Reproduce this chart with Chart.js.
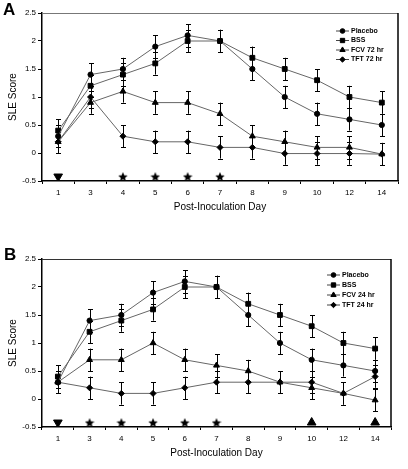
<!DOCTYPE html>
<html>
<head>
<meta charset="utf-8">
<script src="https://cdn.jsdelivr.net/npm/chart.js@4/dist/chart.umd.min.js"></script>
<style>
  body { margin: 0; background: #fff; }
  canvas { display: block; }
</style>
</head>
<body>
<canvas id="chartA" width="408" height="235"></canvas>
<canvas id="chartB" width="408" height="234"></canvas>
<script>
  const days = ["1", "3", "4", "5", "6", "7", "8", "9", "10", "12", "14"];

  // panel A
  const placeboA = [0.3, 1.4, 1.5, 1.9, 2.1, 2.0, 1.5, 1.0, 0.7, 0.6, 0.5];
  const bssA = [0.4, 1.2, 1.4, 1.6, 2.0, 2.0, 1.7, 1.5, 1.3, 1.0, 0.9];
  const fcv72 = [0.2, 0.9, 1.1, 0.9, 0.9, 0.7, 0.3, 0.2, 0.1, 0.1, -0.02];
  const tft72 = [0.2, 1.0, 0.3, 0.2, 0.2, 0.1, 0.1, -0.01, -0.01, -0.01, -0.02];
  const placeboAErr = [0.2, 0.2, 0.2, 0.2, 0.2, 0.2, 0.2, 0.2, 0.2, 0.2, 0.2];
  const bssAErr = [0.2, 0.2, 0.2, 0.2, 0.2, 0.2, 0.2, 0.2, 0.2, 0.2, 0.2];
  const fcv72Err = [0.2, 0.2, 0.2, 0.2, 0.2, 0.2, 0.2, 0.2, 0.2, 0.2, 0.2];
  const tft72Err = [0.2, 0.2, 0.2, 0.2, 0.2, 0.2, 0.2, 0.2, 0.2, 0.2, 0.2];
  const downDaysA = ["1"];
  const starDaysA = ["4", "5", "6", "7"];
  const upDaysA = [];

  // panel B
  const placeboB = [0.3, 1.4, 1.5, 1.9, 2.1, 2.0, 1.5, 1.0, 0.7, 0.6, 0.5];
  const bssB = [0.4, 1.2, 1.4, 1.6, 2.0, 2.0, 1.7, 1.5, 1.3, 1.0, 0.9];
  const fcv24 = [0.3, 0.7, 0.7, 1.0, 0.7, 0.6, 0.5, 0.3, 0.2, 0.1, -0.02];
  const tft24 = [0.3, 0.2, 0.1, 0.1, 0.2, 0.3, 0.3, 0.3, 0.3, 0.1, 0.4];
  const placeboBErr = [0.2, 0.2, 0.2, 0.2, 0.2, 0.2, 0.2, 0.2, 0.2, 0.2, 0.2];
  const bssBErr = [0.2, 0.2, 0.2, 0.2, 0.2, 0.2, 0.2, 0.2, 0.2, 0.2, 0.2];
  const fcv24Err = [0.2, 0.2, 0.2, 0.2, 0.2, 0.2, 0.2, 0.2, 0.2, 0.2, 0.2];
  const tft24Err = [0.2, 0.2, 0.2, 0.2, 0.2, 0.2, 0.2, 0.2, 0.2, 0.2, 0.2];
  const downDaysB = ["1"];
  const starDaysB = ["3", "4", "5", "6", "7"];
  const upDaysB = ["10", "14"];

  const markY = -0.42;
  const yTicks = [-0.5, 0, 0.5, 1, 1.5, 2, 2.5];

  const FONT = "'Liberation Sans', Arial, sans-serif";
  Chart.defaults.font.family = FONT;
  Chart.defaults.color = "#000";

  function starImage(size) {
    const c = document.createElement("canvas");
    c.width = size;
    c.height = size;
    const g = c.getContext("2d");
    const r = size / 2, ri = r * 0.45;
    g.beginPath();
    for (let i = 0; i < 10; i++) {
      const rad = i % 2 ? ri : r;
      const a = -Math.PI / 2 + (i * Math.PI) / 5;
      g.lineTo(r + rad * Math.cos(a), r + 0.6 + rad * Math.sin(a));
    }
    g.closePath();
    g.fillStyle = "#000";
    g.fill();
    return c;
  }
  const star = starImage(10);

  const errorBars = {
    id: "errorBars",
    beforeDatasetsDraw(chart) {
      const ctx = chart.ctx;
      const y = chart.scales.y;
      ctx.save();
      ctx.strokeStyle = "#000";
      ctx.lineWidth = 1;
      chart.data.datasets.forEach((ds, i) => {
        if (!ds.errors) return;
        chart.getDatasetMeta(i).data.forEach((pt, j) => {
          const v = ds.data[j], e = ds.errors[j];
          const x = Math.round(pt.x) + 0.5;
          const top = y.getPixelForValue(v + e);
          const bot = y.getPixelForValue(v - e);
          ctx.beginPath();
          ctx.moveTo(x, top);
          ctx.lineTo(x, bot);
          ctx.moveTo(x - 2.5, Math.round(top) + 0.5);
          ctx.lineTo(x + 2.5, Math.round(top) + 0.5);
          ctx.moveTo(x - 2.5, Math.round(bot) + 0.5);
          ctx.lineTo(x + 2.5, Math.round(bot) + 0.5);
          ctx.stroke();
        });
      });
      ctx.restore();
    },
  };

  const frameAndLegend = {
    id: "frameAndLegend",
    afterDraw(chart, args, opts) {
      const ctx = chart.ctx;
      const a = chart.chartArea;
      ctx.save();
      ctx.lineWidth = 1;
      ctx.strokeStyle = opts.topColor;
      ctx.beginPath();
      ctx.moveTo(a.left, a.top + 0.5);
      ctx.lineTo(a.right, a.top + 0.5);
      ctx.stroke();
      ctx.lineWidth = 1.5;
      ctx.strokeStyle = "#000";
      ctx.beginPath();
      ctx.moveTo(a.right, a.top);
      ctx.lineTo(a.right, a.bottom);
      ctx.stroke();

      // legend inside the plot
      ctx.font = "bold 7px " + FONT;
      ctx.textBaseline = "middle";
      chart.data.datasets.filter((d) => !d.isMark).forEach((d, i) => {
        const ly = opts.y + i * opts.spacing;
        ctx.strokeStyle = "#444";
        ctx.lineWidth = 1;
        ctx.beginPath();
        ctx.moveTo(opts.x, ly);
        ctx.lineTo(opts.x + 13, ly);
        ctx.stroke();
        ctx.fillStyle = "#000";
        ctx.strokeStyle = "#000";
        Chart.helpers.drawPoint(ctx, {
          pointStyle: d.pointStyle, radius: d.pointRadius * 0.9,
          rotation: 0, borderWidth: 1,
        }, opts.x + 6.5, ly);
        ctx.fillStyle = "#000";
        ctx.fillText(d.label, opts.x + 15, ly);
      });

      // panel letter
      ctx.font = "bold 17px " + FONT;
      ctx.fillStyle = "#000";
      ctx.textBaseline = "middle";
      ctx.fillText(opts.letter, opts.letterX, opts.letterY);
      ctx.restore();
    },
  };

  function series(label, data, errors, style, radius) {
    return {
      label: label,
      data: data,
      errors: errors,
      borderColor: "#666",
      borderWidth: 1,
      pointStyle: style,
      pointRadius: radius,
      pointBackgroundColor: "#000",
      pointBorderColor: "#000",
      pointBorderWidth: 1,
      tension: 0,
      fill: false,
    };
  }

  function marks(down, stars, up) {
    const data = [], styles = [], rot = [], rad = [];
    down.forEach((d) => { data.push({ x: d, y: markY }); styles.push("triangle"); rot.push(180); rad.push(5); });
    stars.forEach((d) => { data.push({ x: d, y: markY }); styles.push(star); rot.push(0); rad.push(5); });
    up.forEach((d) => { data.push({ x: d, y: markY }); styles.push("triangle"); rot.push(0); rad.push(5); });
    return {
      isMark: true,
      data: data,
      showLine: false,
      pointStyle: styles,
      pointRotation: rot,
      pointRadius: rad,
      pointBackgroundColor: "#000",
      pointBorderColor: "#000",
    };
  }

  function createChart(id, datasets, pad, legend) {
    const ctx = document.getElementById(id).getContext("2d");
    return new Chart(ctx, {
      type: "line",
      data: { labels: days, datasets: datasets },
      plugins: [errorBars, frameAndLegend],
      options: {
        responsive: false,
        animation: false,
        layout: { padding: pad },
        plugins: {
          legend: { display: false },
          tooltip: { enabled: false },
          frameAndLegend: legend,
        },
        scales: {
          x: {
            type: "category",
            offset: true,
            grid: { drawOnChartArea: false, offset: true, tickLength: 3, color: "#000" },
            border: { color: "#000", width: 1.5 },
            ticks: { font: { size: 8 }, padding: 4, maxRotation: 0, autoSkip: false },
            title: { display: true, text: "Post-Inoculation Day", font: { size: 10 }, padding: { top: 0, bottom: 0 } },
            afterFit: (s) => { s.height = 32; },
          },
          y: {
            min: -0.5,
            max: 2.5,
            afterBuildTicks: (s) => { s.ticks = yTicks.map((v) => ({ value: v })); },
            grid: { drawOnChartArea: false, tickLength: 4, color: "#000" },
            border: { color: "#000", width: 1.5 },
            ticks: { font: { size: 8 }, padding: 2, callback: (v) => String(v) },
            title: { display: true, text: "SLE Score", font: { size: 10 }, padding: { top: 7, bottom: 0 } },
            afterFit: (s) => { s.width = 42; },
          },
        },
      },
    });
  }

  createChart("chartA", [
    series("Placebo", placeboA, placeboAErr, "circle", 2.6),
    series("BSS", bssA, bssAErr, "rect", 3.4),
    series("FCV 72 hr", fcv72, fcv72Err, "triangle", 3.4),
    series("TFT 72 hr", tft72, tft72Err, "rectRot", 3),
    marks(downDaysA, starDaysA, upDaysA),
  ], { top: 13, right: 10, left: 0, bottom: 22 },
  { x: 336, y: 31, spacing: 9.5, topColor: "#777", letter: "A", letterX: 3, letterY: 10 });

  createChart("chartB", [
    series("Placebo", placeboB, placeboBErr, "circle", 2.6),
    series("BSS", bssB, bssBErr, "rect", 3.4),
    series("FCV 24 hr", fcv24, fcv24Err, "triangle", 3.4),
    series("TFT 24 hr", tft24, tft24Err, "rectRot", 3),
    marks(downDaysB, starDaysB, upDaysB),
  ], { top: 24, right: 17, left: 0, bottom: 10 },
  { x: 327, y: 40, spacing: 10, topColor: "#333", letter: "B", letterX: 4, letterY: 20 });
</script>
</body>
</html>
